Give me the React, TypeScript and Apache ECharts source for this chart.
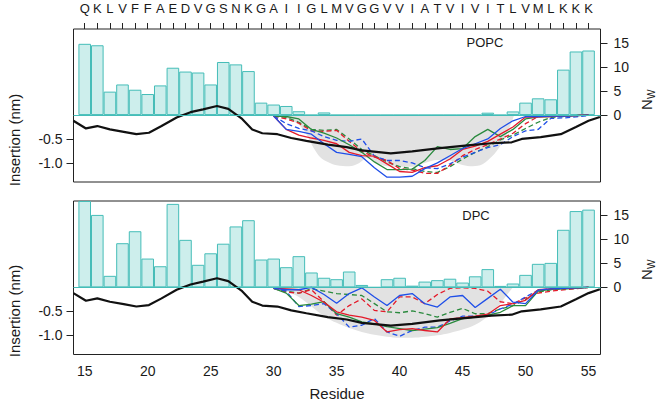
import React, { useEffect, useRef } from "react";
import * as echarts from "echarts";

// ---------- data ----------
const residues = [15, 16, 17, 18, 19, 20, 21, 22, 23, 24, 25, 26, 27, 28, 29, 30, 31, 32, 33, 34, 35, 36, 37, 38, 39, 40, 41, 42, 43, 44, 45, 46, 47, 48, 49, 50, 51, 52, 53, 54, 55];
const sequence = ["Q", "K", "L", "V", "F", "F", "A", "E", "D", "V", "G", "S", "N", "K", "G", "A", "I", "I", "G", "L", "M", "V", "G", "G", "V", "V", "I", "A", "T", "V", "I", "V", "I", "T", "L", "V", "M", "L", "K", "K", "K"];
const residueTicks = [15, 20, 25, 30, 35, 40, 45, 50, 55];
const insertionTicks = [-1.0, -0.5];
const nwTicks = [0, 5, 10, 15];

// number of water molecules (N_w) per residue
const popcWater = [14.9, 14.6, 4.9, 6.4, 5.3, 4.4, 6.2, 9.9, 9.1, 8.9, 6.4, 11.1, 10.6, 9.2, 2.6, 2.2, 1.9, 0.8, 0, 0.55, 0, 0, 0, 0, 0, 0, 0, 0, 0, 0, 0, 0, 0.5, 0, 0.76, 2.6, 3.5, 3.3, 9.5, 13.3, 13.5];
const dpcWater = [18.0, 15.1, 2.4, 9.2, 11.7, 6.0, 4.4, 17.4, 9.9, 4.7, 7.1, 9.1, 12.7, 14.0, 5.8, 6.0, 4.2, 6.5, 3.1, 2.0, 1.7, 3.3, 0.5, 0, 1.7, 2.0, 0.35, 1.2, 1.5, 1.8, 1.0, 2.3, 3.8, 0.3, 0.8, 2.6, 4.9, 5.1, 12.0, 15.9, 16.2];

// mean insertion depth (black line)
const meanRes = [14.1, 15.1, 16.0, 17.0, 18.1, 19.1, 20.1, 21.1, 22.3, 23.4, 24.4, 25.5, 26.4, 27.5, 28.3, 29.1, 30.3, 31.4, 32.6, 34.3, 35.8, 37.0, 39.3, 41.0, 43.2, 45.6, 47.3, 48.9, 49.7, 51.2, 52.8, 54.0, 55.0, 55.9];
const meanDepth = [-0.12, -0.28, -0.23, -0.30, -0.35, -0.40, -0.37, -0.23, -0.05, 0.06, 0.12, 0.19, 0.13, -0.08, -0.30, -0.38, -0.40, -0.48, -0.54, -0.62, -0.67, -0.74, -0.80, -0.76, -0.69, -0.63, -0.59, -0.57, -0.50, -0.46, -0.40, -0.25, -0.12, -0.04];

// grey envelopes
const popcEnvRes = [30.2, 31, 32, 32.6, 33.2, 33.7, 34.3, 35, 36, 36.8, 37.4, 38.2, 39, 40, 41, 42, 43, 44, 44.8, 45.6, 46.4, 47.2, 47.8, 48.5, 49.1];
const popcEnvDepth = [0, -0.06, -0.2, -0.4, -0.7, -0.88, -0.98, -1.05, -1.07, -1.0, -0.9, -1.0, -1.07, -1.08, -1.08, -1.0, -0.94, -0.95, -1.03, -1.07, -1.05, -0.9, -0.72, -0.4, 0];
const dpcEnvRes = [29.5, 30, 31, 32, 33, 34, 35, 36, 37, 38, 39, 40, 41, 42, 43, 44, 45, 46, 47, 47.8, 48.4, 49];
const dpcEnvDepth = [0, -0.02, -0.08, -0.2, -0.4, -0.6, -0.74, -0.85, -0.93, -0.99, -1.03, -1.05, -1.05, -1.03, -1.0, -0.95, -0.88, -0.78, -0.6, -0.4, -0.2, 0];

// individual traces, residues 30..55
const traceRes = [30, 31, 32, 33, 34, 35, 36, 37, 38, 39, 40, 41, 42, 43, 44, 45, 46, 47, 48, 49, 50, 51, 52, 53, 54, 55];
const popcBlueSolid = [-0.02, -0.30, -0.34, -0.40, -0.60, -0.78, -0.82, -0.87, -1.10, -1.30, -1.30, -1.28, -1.12, -1.00, -0.85, -0.70, -0.60, -0.50, -0.28, -0.12, -0.03, -0.03, -0.02, -0.02, -0.01, 0.0];
const popcRedSolid = [-0.02, -0.30, -0.42, -0.48, -0.53, -0.60, -0.78, -0.85, -0.86, -1.02, -1.18, -1.20, -1.10, -1.06, -0.92, -0.72, -0.65, -0.55, -0.40, -0.25, -0.04, -0.04, -0.03, -0.02, -0.01, 0.0];
const popcGreenSolid = [-0.02, -0.03, -0.08, -0.30, -0.38, -0.48, -0.62, -0.78, -0.98, -1.14, -1.14, -1.13, -0.95, -0.66, -0.72, -0.70, -0.45, -0.30, -0.45, -0.30, -0.08, -0.04, -0.03, -0.02, -0.01, 0.0];
const popcRedDashed = [-0.02, -0.08, -0.17, -0.33, -0.34, -0.32, -0.55, -0.76, -0.88, -0.95, -1.12, -1.15, -1.22, -1.22, -1.05, -0.85, -0.72, -0.62, -0.50, -0.38, -0.18, -0.03, -0.02, -0.01, -0.01, 0.0];
const popcGreenDashed = [-0.02, -0.05, -0.15, -0.30, -0.32, -0.30, -0.50, -0.72, -0.85, -0.98, -1.08, -1.12, -1.18, -1.20, -1.08, -0.92, -0.78, -0.66, -0.52, -0.42, -0.28, -0.15, -0.05, -0.03, -0.01, 0.0];
const popcBlueDashed = [-0.02, -0.18, -0.28, -0.33, -0.45, -0.53, -0.55, -0.50, -0.86, -0.95, -0.95, -1.00, -1.10, -1.12, -1.02, -0.88, -0.78, -0.68, -0.62, -0.45, -0.33, -0.30, -0.07, -0.06, -0.04, -0.01];

const dpcBlueSolid = [-0.02, -0.05, -0.05, 0.0, -0.15, -0.33, -0.13, -0.01, -0.20, -0.38, -0.17, -0.13, -0.34, -0.41, -0.20, -0.17, -0.42, -0.23, -0.04, -0.31, -0.34, -0.06, -0.03, -0.02, -0.01, 0.0];
const dpcRedSolid = [-0.02, -0.03, -0.05, -0.17, -0.31, -0.51, -0.58, -0.62, -0.69, -0.93, -0.88, -0.86, -0.90, -0.93, -0.66, -0.63, -0.60, -0.56, -0.38, -0.34, -0.27, -0.05, -0.03, -0.02, -0.01, 0.0];
const dpcGreenSolid = [-0.02, -0.12, -0.38, -0.35, -0.30, -0.55, -0.62, -0.72, -0.76, -0.82, -0.86, -0.90, -0.87, -0.84, -0.75, -0.65, -0.62, -0.58, -0.52, -0.38, -0.38, -0.08, -0.04, -0.03, -0.02, 0.0];
const dpcRedDashed = [-0.02, -0.10, -0.12, -0.05, -0.30, -0.58, -0.38, -0.24, -0.48, -0.51, -0.20, -0.20, -0.34, -0.15, -0.02, -0.01, -0.02, -0.08, -0.30, -0.34, -0.22, -0.12, -0.08, -0.05, -0.03, 0.0];
const dpcGreenDashed = [-0.02, -0.08, -0.12, -0.03, -0.08, -0.13, -0.15, -0.17, -0.34, -0.51, -0.53, -0.49, -0.55, -0.62, -0.52, -0.44, -0.55, -0.55, -0.45, -0.38, -0.25, -0.10, -0.05, -0.03, -0.02, 0.0];
const dpcBlueDashed = [-0.02, -0.08, -0.40, -0.38, -0.34, -0.55, -0.83, -0.79, -0.65, -0.93, -1.02, -0.90, -0.83, -0.83, -0.70, -0.60, -0.60, -0.58, -0.45, -0.35, -0.20, -0.06, -0.03, -0.01, -0.01, 0.0];

// ---------- layout / style ----------
const FONT = "'Liberation Sans', Arial, sans-serif";
const GRID_LEFT = 73.5;
const GRID_WIDTH = 527;
const X_MIN = 14.11;
const X_MAX = 55.95;
const BAR_W = GRID_WIDTH / (X_MAX - X_MIN);
const Y_MIN = -1.4;
const Y_MAX = 1.8;
const NW_MIN = -14;
const NW_MAX = 18;
const BAR_FILL = "#cdeeec";
const BAR_EDGE = "#45bdb8";
const RED = "#e41a2a";
const GREEN = "#2a8a3e";
const BLUE = "#1f4fe8";
const TEXT = "#1a1a1a";

const pairs = (xs: number[], ys: number[]) => xs.map((x, i) => [x, ys[i]]);

function panelSeries(xIdx: number, yLeft: number, yRight: number, water: number[], envRes: number[], envDepth: number[], traces: { d: number[]; c: string; dash: boolean }[]) {
  const s: any[] = [];
  s.push({
    type: "line",
    xAxisIndex: xIdx,
    yAxisIndex: yLeft,
    data: pairs(envRes, envDepth),
    smooth: 0.35,
    showSymbol: false,
    symbol: "none",
    lineStyle: { width: 0, opacity: 0 },
    areaStyle: { color: "#e2e2e2", opacity: 1 },
    z: 1,
  });
  s.push({
    type: "bar",
    xAxisIndex: xIdx,
    yAxisIndex: yRight,
    data: pairs(residues, water),
    barWidth: BAR_W,
    itemStyle: { color: BAR_FILL, borderColor: BAR_EDGE, borderWidth: 1 },
    markLine: {
      silent: true,
      symbol: "none",
      label: { show: false },
      lineStyle: { color: BAR_EDGE, width: 1.2, type: "solid" },
      data: [{ yAxis: 0 }],
    },
    z: 2,
  });
  traces.forEach((t) => {
    s.push({
      type: "line",
      xAxisIndex: xIdx,
      yAxisIndex: yLeft,
      data: pairs(traceRes, t.d),
      showSymbol: false,
      symbol: "none",
      lineStyle: { color: t.c, width: 1.3, type: t.dash ? [5, 3] : "solid" },
      z: 3,
    });
  });
  s.push({
    type: "line",
    xAxisIndex: xIdx,
    yAxisIndex: yLeft,
    data: pairs(meanRes, meanDepth),
    showSymbol: false,
    symbol: "none",
    lineStyle: { color: "#111", width: 2.2 },
    z: 4,
  });
  return s;
}

function leftAxis(gridIndex: number) {
  return {
    type: "value",
    gridIndex,
    position: "left",
    offset: 0,
    min: Y_MIN,
    max: Y_MAX,
    axisLine: { show: false, onZero: false },
    splitLine: { show: false },
    axisTick: { show: true, customValues: insertionTicks, length: 7, lineStyle: { color: "#222" } },
    axisLabel: { customValues: insertionTicks, formatter: (v: number) => v.toFixed(1), fontSize: 14, color: TEXT, fontFamily: FONT, margin: 11 },
  };
}
function rightAxis(gridIndex: number) {
  return {
    type: "value",
    gridIndex,
    position: "right",
    offset: 0,
    min: NW_MIN,
    max: NW_MAX,
    axisLine: { show: false, onZero: false },
    splitLine: { show: false },
    axisTick: { show: true, customValues: nwTicks, length: 7, lineStyle: { color: "#222" } },
    axisLabel: { customValues: nwTicks, fontSize: 14, color: TEXT, fontFamily: FONT, margin: 13 },
  };
}

function buildOption() {
  return {
    animation: false,
    grid: [
      { left: GRID_LEFT, top: 29, width: GRID_WIDTH, height: 153, show: true, borderColor: "#222", borderWidth: 1, backgroundColor: "transparent" },
      { left: GRID_LEFT, top: 201, width: GRID_WIDTH, height: 153.5, show: true, borderColor: "#222", borderWidth: 1, backgroundColor: "transparent" },
    ],
    xAxis: [
      {
        type: "value",
        gridIndex: 0,
        position: "top",
        min: X_MIN,
        max: X_MAX,
        axisLine: { show: false, onZero: false },
        splitLine: { show: false },
        axisTick: { show: true, customValues: residues, length: 6, lineStyle: { color: "#222" } },
        axisLabel: {
          customValues: residues,
          formatter: (v: number) => sequence[Math.round(v) - 15] || "",
          fontSize: 13,
          color: TEXT,
          fontFamily: FONT,
          margin: 14,
        },
      },
      {
        type: "value",
        gridIndex: 1,
        position: "bottom",
        min: X_MIN,
        max: X_MAX,
        axisLine: { show: false, onZero: false },
        splitLine: { show: false },
        axisTick: { show: false },
        axisLabel: { customValues: residueTicks, fontSize: 14, color: TEXT, fontFamily: FONT, margin: 9 },
      },
    ],
    yAxis: [leftAxis(0), rightAxis(0), leftAxis(1), rightAxis(1)],
    series: [
      ...panelSeries(0, 0, 1, popcWater, popcEnvRes, popcEnvDepth, [
        { d: popcGreenDashed, c: GREEN, dash: true },
        { d: popcRedDashed, c: RED, dash: true },
        { d: popcBlueDashed, c: BLUE, dash: true },
        { d: popcGreenSolid, c: GREEN, dash: false },
        { d: popcRedSolid, c: RED, dash: false },
        { d: popcBlueSolid, c: BLUE, dash: false },
      ]),
      ...panelSeries(1, 2, 3, dpcWater, dpcEnvRes, dpcEnvDepth, [
        { d: dpcGreenDashed, c: GREEN, dash: true },
        { d: dpcRedDashed, c: RED, dash: true },
        { d: dpcBlueDashed, c: BLUE, dash: true },
        { d: dpcGreenSolid, c: GREEN, dash: false },
        { d: dpcRedSolid, c: RED, dash: false },
        { d: dpcBlueSolid, c: BLUE, dash: false },
      ]),
    ],
    graphic: [
      { type: "text", x: 14, y: 140, rotation: Math.PI / 2, style: { text: "Insertion (nm)", fontSize: 15, fontFamily: FONT, fill: TEXT, textAlign: "center", textVerticalAlign: "middle" } },
      { type: "text", x: 14, y: 311, rotation: Math.PI / 2, style: { text: "Insertion (nm)", fontSize: 15, fontFamily: FONT, fill: TEXT, textAlign: "center", textVerticalAlign: "middle" } },
      {
        type: "group",
        x: 646,
        y: 100,
        rotation: Math.PI / 2,
        children: [
          { type: "text", x: -10, y: 0, style: { text: "N", fontSize: 15, fontFamily: FONT, fill: TEXT, textAlign: "left", textVerticalAlign: "middle" } },
          { type: "text", x: 1, y: 5, style: { text: "W", fontSize: 10, fontFamily: FONT, fill: TEXT, textAlign: "left", textVerticalAlign: "middle" } },
        ],
      },
      {
        type: "group",
        x: 646,
        y: 270,
        rotation: Math.PI / 2,
        children: [
          { type: "text", x: -10, y: 0, style: { text: "N", fontSize: 15, fontFamily: FONT, fill: TEXT, textAlign: "left", textVerticalAlign: "middle" } },
          { type: "text", x: 1, y: 5, style: { text: "W", fontSize: 10, fontFamily: FONT, fill: TEXT, textAlign: "left", textVerticalAlign: "middle" } },
        ],
      },
      { type: "text", x: 485, y: 42, style: { text: "POPC", fontSize: 13, fontFamily: FONT, fill: TEXT, textAlign: "center", textVerticalAlign: "middle" } },
      { type: "text", x: 476, y: 215, style: { text: "DPC", fontSize: 13, fontFamily: FONT, fill: TEXT, textAlign: "center", textVerticalAlign: "middle" } },
      { type: "text", x: 337, y: 393, style: { text: "Residue", fontSize: 15, fontFamily: FONT, fill: TEXT, textAlign: "center", textVerticalAlign: "middle" } },
    ],
  };
}

export default function App() {
  const ref = useRef<HTMLDivElement>(null);
  useEffect(() => {
    if (!ref.current) return;
    const chart = echarts.init(ref.current, null, { renderer: "svg" });
    chart.setOption(buildOption() as any);
    return () => chart.dispose();
  }, []);
  return <div ref={ref} style={{ position: "fixed", left: 0, top: 0, width: 666, height: 404, background: "#fff" }} />;
}
